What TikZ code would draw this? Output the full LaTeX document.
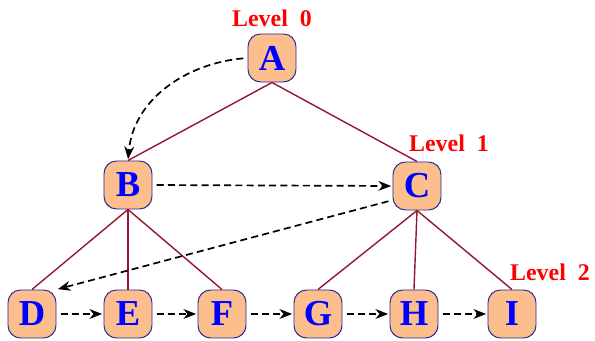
\documentclass[tikz,border=0pt]{standalone}
\usepackage{fontspec}
\setmainfont{Liberation Serif}
\usetikzlibrary{arrows.meta}

\definecolor{boxfill}{RGB}{251,190,140}
\definecolor{boxline}{RGB}{40,40,150}
\definecolor{treeline}{RGB}{150,20,60}

\begin{document}
\begin{tikzpicture}[x=0.025cm,y=-0.025cm,
    vertex/.style={draw=boxline,fill=boxfill,line width=0.7pt,rounded corners=9pt,
      minimum width=1.2cm,minimum height=1.2cm,inner sep=0pt,
      text=blue,font=\fontsize{26}{26}\selectfont\bfseries},
    levellab/.style={text=red,font=\fontsize{17}{17}\selectfont\bfseries},
    branch/.style={treeline,line width=1pt},
    visit/.style={-{Stealth[length=9pt,width=7pt]},line width=1.2pt,
      dash pattern=on 5pt off 3pt,shorten <=3pt,shorten >=1pt}]
      \useasboundingbox (0,0) rectangle (595,341);

      % levels
      \node[levellab] (L0) at (272,18) {Level\ \ 0};
      \node[levellab] (L1) at (449,143) {Level\ \ 1};
      \node[levellab] (L2) at (550,272) {Level\ \ 2};

      \node[vertex] (A) at (272,58) {A};

      \node[vertex] (B) at (128,185) {B};
      \node[vertex] (C) at (417,186) {C};

      \node[vertex] (D) at (32,314) {D};
      \node[vertex] (E) at (128,314) {E};
      \node[vertex] (F) at (222,314) {F};
      \node[vertex] (G) at (318,314) {G};
      \node[vertex] (H) at (414,314) {H};
      \node[vertex] (I) at (512,314) {I};

      \draw [branch] (A.south) to (B.north);
      \draw [branch] (A.south) to (C.north);
      \draw [branch] (B.south) to (D.north);
      \draw [branch] (B.south) to (E.north);
      \draw [branch] (B.south) to (F.north);
      \draw [branch] (C.south) to (G.north);
      \draw [branch] (C.south) to (H.north);
      \draw [branch] (C.south) to (I.north);

      % traversal order
      \draw [visit] (A.west) to[out=185,in=85] (B.north);
      \draw [visit] (B.east) to (C.west);
      \draw [visit] (C.-150) to (D.north east);
      \draw [visit] (D.east) to (E.west);
      \draw [visit] (E.east) to (F.west);
      \draw [visit] (F.east) to (G.west);
      \draw [visit] (G.east) to (H.west);
      \draw [visit] (H.east) to (I.west);
\end{tikzpicture}
\end{document}
